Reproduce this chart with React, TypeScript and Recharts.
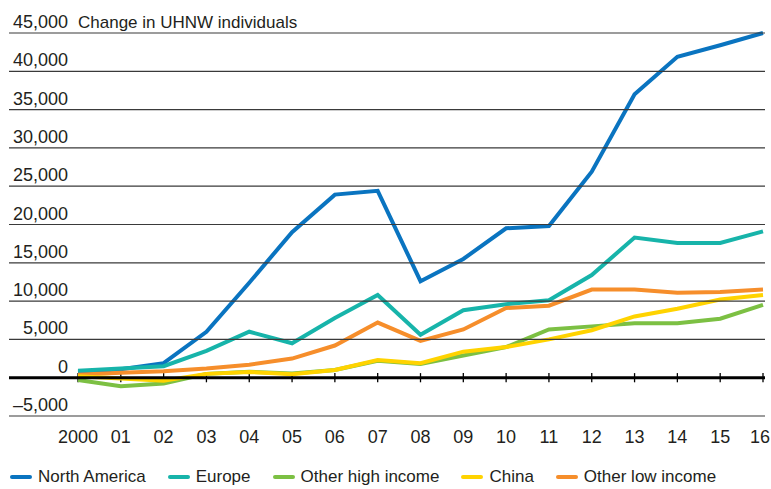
import React from 'react';
import { LineChart, Line, XAxis, YAxis, ReferenceLine, Legend } from 'recharts';

const years = ['2000', '01', '02', '03', '04', '05', '06', '07', '08', '09', '10', '11', '12', '13', '14', '15', '16'];
const northAmerica = [700, 1100, 1900, 6000, 12400, 19000, 23900, 24400, 12600, 15500, 19500, 19800, 26900, 37000, 41900, 43400, 45000];
const europe = [900, 1200, 1500, 3500, 6000, 4500, 7800, 10800, 5600, 8800, 9600, 10100, 13400, 18300, 17600, 17600, 19100];
const otherHigh = [-300, -1100, -750, 500, 780, 550, 1000, 2200, 1800, 2900, 4000, 6300, 6700, 7100, 7100, 7700, 9500];
const china = [200, -100, -400, 500, 750, 450, 1000, 2300, 1900, 3400, 4000, 5000, 6200, 8000, 9000, 10200, 10800];
const otherLow = [400, 650, 850, 1200, 1700, 2500, 4200, 7200, 4800, 6300, 9100, 9400, 11500, 11500, 11100, 11200, 11500];
const yTicks = [-5000, 0, 5000, 10000, 15000, 20000, 25000, 30000, 35000, 40000, 45000];
const title = 'Change in UHNW individuals';

const series = [
  { key: 'na', name: 'North America', color: '#0A74C0', values: northAmerica },
  { key: 'eu', name: 'Europe', color: '#17B4AA', values: europe },
  { key: 'oh', name: 'Other high income', color: '#7CC043', values: otherHigh },
  { key: 'cn', name: 'China', color: '#FFD300', values: china },
  { key: 'ol', name: 'Other low income', color: '#F68E2B', values: otherLow },
];
const drawOrder = ['na', 'eu', 'oh', 'ol', 'cn'];

const data = years.map((y, i) => {
  const row: any = { year: y };
  series.forEach((s) => { row[s.key] = s.values[i]; });
  return row;
});

const FONT = '"Liberation Sans", Arial, Helvetica, sans-serif';
const TEXT = '#231f20';

const fmt = (v: number) => (v < 0 ? '\u2013' : '') + Math.abs(v).toLocaleString('en-US');

const YTick = (props: any) => {
  const { y, payload } = props;
  const v = payload.value;
  return (
    <g>
      <line x1={9} x2={765} y1={y} y2={y} stroke={v === 0 ? '#000' : '#3a3a3a'} strokeWidth={v === 0 ? 3 : 1.2} />
      <text x={68} y={y - 5} textAnchor="end" fontSize={18} fontFamily={FONT} fill={TEXT}>{fmt(v)}</text>
      {v === 45000 && (
        <text x={78} y={y - 5} textAnchor="start" fontSize={17} fontFamily={FONT} fill={TEXT}>{title}</text>
      )}
    </g>
  );
};

const XTick = (props: any) => {
  const { x, y, payload, index } = props;
  const last = index === years.length - 1;
  return (
    <text x={last ? x + 7 : x} y={y + 27} textAnchor={last ? 'end' : 'middle'} fontSize={18} fontFamily={FONT} fill={TEXT}>{payload.value}</text>
  );
};

const LegendContent = () => (
  <div style={{ display: 'flex', alignItems: 'center', fontFamily: FONT, fontSize: 17, color: TEXT, lineHeight: '22px', paddingLeft: 10 }}>
    {series.map((s) => (
      <div key={s.key} style={{ display: 'flex', alignItems: 'center', marginRight: 22 }}>
        <span style={{ display: 'inline-block', width: 22, height: 4, background: s.color, borderRadius: 2, marginRight: 6 }} />
        <span>{s.name}</span>
      </div>
    ))}
  </div>
);

export default function App() {
  return (
    <div style={{ position: 'absolute', left: 0, top: 0, width: 771, height: 489, background: '#fff' }}>
      <LineChart width={771} height={489} data={data} margin={{ top: 33, right: 8, bottom: 43, left: 8 }}>
        <YAxis
          type="number"
          domain={[-5000, 45000]}
          ticks={yTicks}
          interval={0}
          width={70}
          axisLine={false}
          tickLine={false}
          tick={<YTick />}
        />
        <XAxis
          dataKey="year"
          interval={0}
          height={30}
          axisLine={false}
          tickLine={false}
          tickSize={0}
          tickMargin={0}
          tick={<XTick />}
        />
        {years.map((yr) => (
          <ReferenceLine
            key={'t' + yr}
            segment={[{ x: yr, y: -600 }, { x: yr, y: 600 }]}
            stroke="#000"
            strokeWidth={1.3}
            ifOverflow="visible"
          />
        ))}
        {drawOrder.map((k) => {
          const s = series.find((q) => q.key === k)!;
          return (
            <Line
              key={s.key}
              type="linear"
              dataKey={s.key}
              name={s.name}
              stroke={s.color}
              strokeWidth={4}
              dot={false}
              activeDot={false}
              isAnimationActive={false}
              strokeLinejoin="miter"
            />
          );
        })}
        <Legend
          layout="horizontal"
          verticalAlign="middle"
          align="center"
          content={<LegendContent />}
          wrapperStyle={{ top: 466, left: 0, width: 771 }}
        />
      </LineChart>
    </div>
  );
}
